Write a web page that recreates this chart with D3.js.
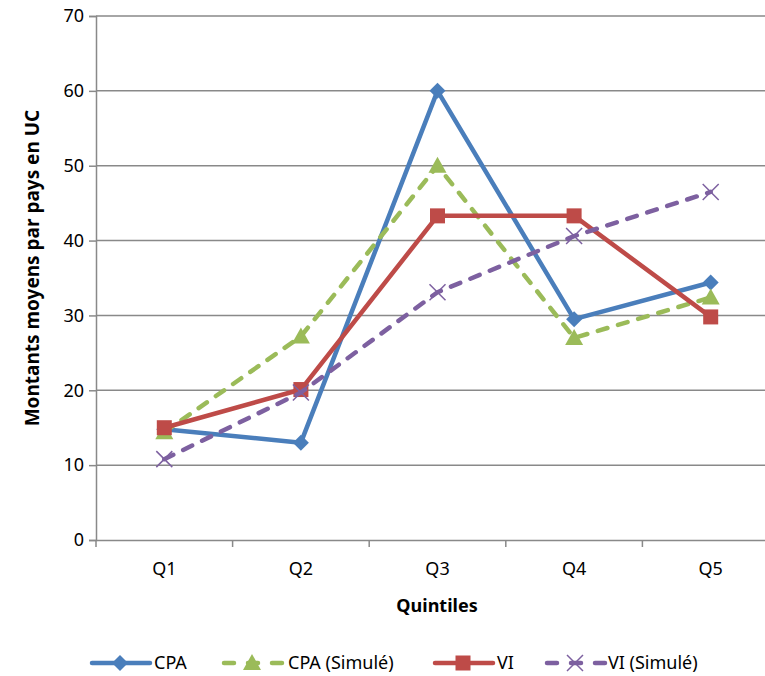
<!DOCTYPE html>
<html lang="fr">
<head>
  <meta charset="utf-8">
  <title>Quintiles</title>
  <script src="https://cdn.jsdelivr.net/npm/d3@7"></script>
  <style>
    body { margin: 0; background: #fff; }
    text { font-family: "Noto Sans", "Open Sans", sans-serif; fill: #000; }
  </style>
</head>
<body>
<script>
  // Data
  var quintiles = ["Q1", "Q2", "Q3", "Q4", "Q5"];
  var cpa = [14.8, 13, 60, 29.5, 34.4];
  var cpaSim = [14.4, 27.2, 50, 27, 32.4];
  var vi = [15, 20.1, 43.3, 43.3, 29.8];
  var viSim = [10.8, 19.7, 33.1, 40.6, 46.5];
  var yTicks = [0, 10, 20, 30, 40, 50, 60, 70];

  var series = [
    { name: "CPA", values: cpa, color: "#4a7ebb", dash: null, marker: "diamond" },
    { name: "CPA (Simulé)", values: cpaSim, color: "#9bbb59", dash: "10,11", marker: "triangle" },
    { name: "VI", values: vi, color: "#be4b48", dash: null, marker: "square" },
    { name: "VI (Simulé)", values: viSim, color: "#7d60a0", dash: "10,11", marker: "cross" }
  ];

  var w = 765, h = 676;
  var grid = "#898989";

  var svg = d3.select("body").append("svg")
    .attr("width", w)
    .attr("height", h);

  // scales
  var x = d3.scaleBand().domain(quintiles).range([96, 779]);
  var y = d3.scaleLinear().domain([0, 70]).range([540, 16]);

  // horizontal gridlines
  svg.append("g")
    .selectAll("line")
    .data(yTicks.slice(1))
    .enter()
    .append("line")
    .attr("x1", 96).attr("x2", 779)
    .attr("y1", function (d) { return y(d); })
    .attr("y2", function (d) { return y(d); })
    .attr("stroke", grid)
    .attr("stroke-width", 1.5);

  // y axis
  var yAxis = d3.axisLeft(y).tickValues(yTicks).tickSize(7).tickPadding(5);
  var gy = svg.append("g").attr("transform", "translate(96,0)").call(yAxis);
  gy.select(".domain").attr("stroke", grid).attr("stroke-width", 1.5);
  gy.selectAll(".tick line").attr("stroke", grid).attr("stroke-width", 1.5);
  gy.selectAll(".tick text").attr("font-size", "18px").attr("font-family", "Noto Sans").attr("fill", "#000");

  // x axis with ticks between categories
  var xAxis = d3.axisBottom(x).tickSize(0).tickPadding(22);
  var gx = svg.append("g").attr("transform", "translate(0,540)").call(xAxis);
  gx.select(".domain").attr("stroke", grid).attr("stroke-width", 1.5);
  gx.selectAll(".tick text").attr("font-size", "18px").attr("font-family", "Noto Sans").attr("fill", "#000");
  gx.selectAll(".sep")
    .data(quintiles.concat(["end"]))
    .enter()
    .append("line")
    .attr("class", "sep")
    .attr("x1", function (d, i) { return 96 + i * x.step(); })
    .attr("x2", function (d, i) { return 96 + i * x.step(); })
    .attr("y1", 0).attr("y2", 7)
    .attr("stroke", grid)
    .attr("stroke-width", 1.5);

  // axis titles
  svg.append("text")
    .attr("x", 437).attr("y", 612)
    .attr("text-anchor", "middle")
    .attr("font-size", "18px")
    .attr("font-weight", "bold")
    .text("Quintiles");

  svg.append("text")
    .attr("transform", "translate(39,268) rotate(-90)")
    .attr("text-anchor", "middle")
    .attr("font-size", "19px")
    .attr("font-weight", "bold")
    .text("Montants moyens par pays en UC");

  function drawMarker(g, type, cx, cy, color) {
    if (type === "diamond") {
      g.append("path")
        .attr("d", "M" + cx + "," + (cy - 8) + "L" + (cx + 8) + "," + cy + "L" + cx + "," + (cy + 8) + "L" + (cx - 8) + "," + cy + "Z")
        .attr("fill", color);
    } else if (type === "square") {
      g.append("rect")
        .attr("x", cx - 7.5).attr("y", cy - 7.5)
        .attr("width", 15).attr("height", 15)
        .attr("fill", color);
    } else if (type === "triangle") {
      g.append("path")
        .attr("d", "M" + cx + "," + (cy - 9) + "L" + (cx + 9) + "," + (cy + 7) + "L" + (cx - 9) + "," + (cy + 7) + "Z")
        .attr("fill", color);
    } else if (type === "cross") {
      g.append("path")
        .attr("d", "M" + (cx - 8) + "," + (cy - 8) + "L" + (cx + 8) + "," + (cy + 8) + "M" + (cx + 8) + "," + (cy - 8) + "L" + (cx - 8) + "," + (cy + 8))
        .attr("stroke", color)
        .attr("stroke-width", 1.5)
        .attr("fill", "none");
    }
  }

  var line = d3.line()
    .x(function (d, i) { return x(quintiles[i]) + x.bandwidth() / 2; })
    .y(function (d) { return y(d); });

  // lines and markers
  series.forEach(function (s) {
    var g = svg.append("g");
    g.append("path")
      .attr("d", line(s.values))
      .attr("fill", "none")
      .attr("stroke", s.color)
      .attr("stroke-width", 4.5)
      .attr("stroke-linecap", "round")
      .attr("stroke-linejoin", "round")
      .attr("stroke-dasharray", s.dash);
    s.values.forEach(function (v, i) {
      drawMarker(g, s.marker, x(quintiles[i]) + x.bandwidth() / 2, y(v), s.color);
    });
  });

  // legend
  var legendPos = [
    { x1: 92, x2: 150, tx: 154 },
    { x1: 224, x2: 282, tx: 288 },
    { x1: 435, x2: 493, tx: 497 },
    { x1: 547, x2: 605, tx: 608 }
  ];
  var ly = 663;
  series.forEach(function (s, i) {
    var p = legendPos[i];
    var g = svg.append("g");
    g.append("line")
      .attr("x1", p.x1).attr("x2", p.x2)
      .attr("y1", ly).attr("y2", ly)
      .attr("stroke", s.color)
      .attr("stroke-width", 4.5)
      .attr("stroke-linecap", "round")
      .attr("stroke-dasharray", s.dash ? "10,14" : null);
    drawMarker(g, s.marker, (p.x1 + p.x2) / 2 - 1, ly, s.color);
    g.append("text")
      .attr("x", p.tx).attr("y", ly + 6)
      .attr("font-size", "18px")
      .text(s.name);
  });
</script>
</body>
</html>
